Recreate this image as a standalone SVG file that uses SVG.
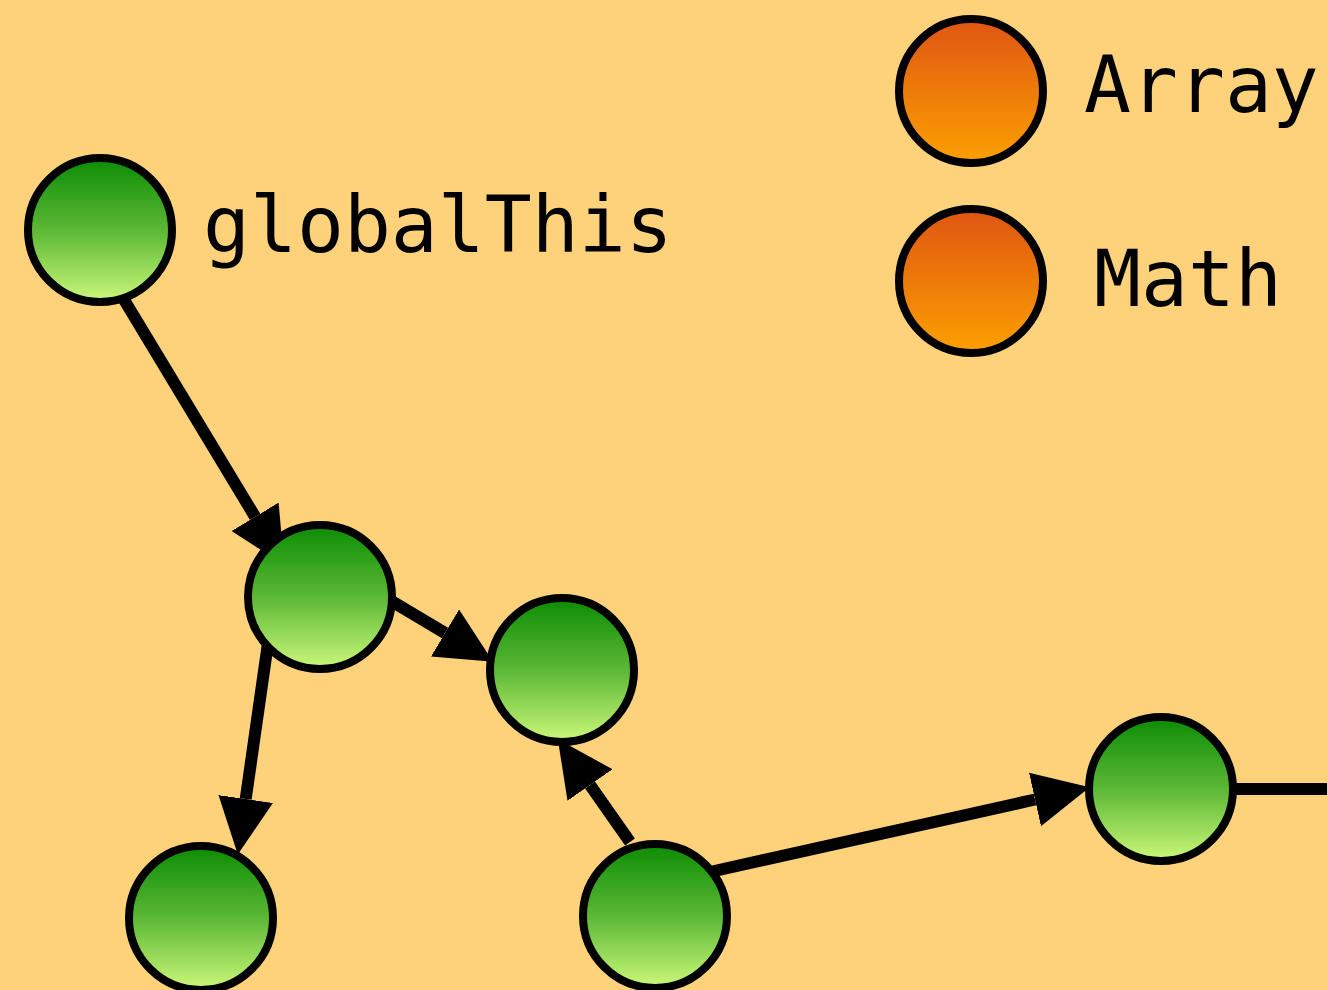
<svg xmlns="http://www.w3.org/2000/svg" width="1327" height="990" viewBox="0 0 1327 990">
  <defs>
    <linearGradient id="gGreen" x1="0" y1="0" x2="0" y2="1">
      <stop offset="0" stop-color="#0b8c03"/>
      <stop offset="0.5" stop-color="#5cb836"/>
      <stop offset="1" stop-color="#ccf87a"/>
    </linearGradient>
    <linearGradient id="gOrange" x1="0" y1="0" x2="0" y2="1">
      <stop offset="0" stop-color="#df5512"/>
      <stop offset="1" stop-color="#fca000"/>
    </linearGradient>
    <marker id="arrow" markerUnits="userSpaceOnUse" markerWidth="56" markerHeight="56" viewBox="0 -27 54 54" refX="0" refY="0" orient="auto">
      <path d="M0,-26.5 L54,0 L0,26.5 z" fill="#000"/>
    </marker>
    <style>
      .green { fill: url(#gGreen); stroke: #000; stroke-width: 8; }
      .orange { fill: url(#gOrange); stroke: #000; stroke-width: 8; }
      .edge { stroke: #000; stroke-width: 12; fill: none; }
      .arr { marker-end: url(#arrow); }
      .lbl { font-family: "DejaVu Sans Mono", "Liberation Mono", monospace; font-size: 78px; fill: #000; }
    </style>
  </defs>
  <rect width="1327" height="990" fill="#fed27a"/>
  <g id="connectors">
    <line class="edge arr" x1="123" y1="298" x2="255.1" y2="516.8"/>
    <line class="edge arr" x1="393" y1="602" x2="445" y2="633"/>
    <line class="edge arr" x1="268" y1="643" x2="245.7" y2="799"/>
    <line class="edge arr" x1="630" y1="842" x2="590" y2="785"/>
    <line class="edge arr" x1="710" y1="872" x2="1035" y2="799.5"/>
    <line class="edge" x1="1235" y1="789" x2="1327" y2="789"/>
  </g>
  <g id="node-globalThis">
    <circle class="green" cx="100" cy="230" r="72"/>
    <text class="lbl" x="203" y="252">globalThis</text>
  </g>
  <g id="node-a">
    <circle class="green" cx="320" cy="597" r="72"/>
  </g>
  <g id="node-b">
    <circle class="green" cx="562" cy="670" r="72"/>
  </g>
  <g id="node-c">
    <circle class="green" cx="201" cy="918" r="72"/>
  </g>
  <g id="node-d">
    <circle class="green" cx="655" cy="916" r="72"/>
  </g>
  <g id="node-e">
    <circle class="green" cx="1161" cy="789" r="72"/>
  </g>
  <g id="node-array">
    <circle class="orange" cx="971" cy="91" r="72"/>
    <text class="lbl" x="1084" y="112">Array</text>
  </g>
  <g id="node-math">
    <circle class="orange" cx="971" cy="281" r="72"/>
    <text class="lbl" x="1094" y="306">Math</text>
  </g>
</svg>
